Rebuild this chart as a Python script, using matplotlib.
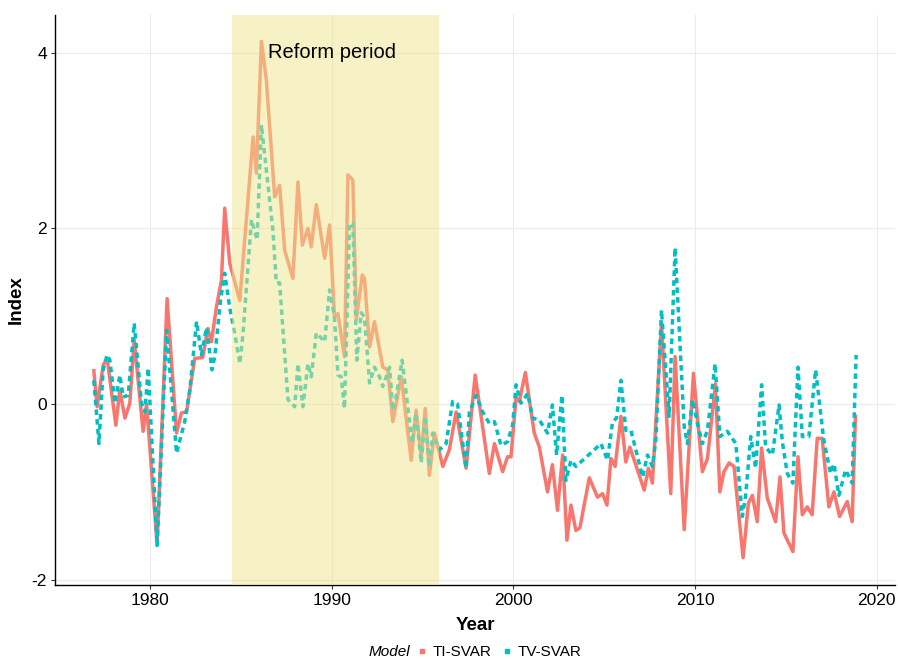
import matplotlib
matplotlib.use("Agg")
import matplotlib.pyplot as plt
from matplotlib.lines import Line2D

plt.rcParams['font.family'] = ['Liberation Sans', 'DejaVu Sans']
plt.rcParams['axes.unicode_minus'] = False

# ---- data ----
ti_years = [1976.92, 1977.10, 1977.43, 1977.65, 1978.13, 1978.35, 1978.63, 1978.90, 1979.14, 1979.63,
            1979.82, 1980.40, 1980.95, 1981.47, 1981.74, 1982.02, 1982.47, 1982.91, 1983.19, 1983.39,
            1983.66, 1983.94, 1984.12, 1984.40, 1984.95, 1985.68, 1985.86, 1986.14, 1986.41, 1986.87,
            1987.14, 1987.42, 1987.87, 1988.15, 1988.39, 1988.70, 1988.88, 1989.16, 1989.62, 1989.89,
            1990.16, 1990.35, 1990.71, 1990.90, 1991.17, 1991.36, 1991.69, 1991.81, 1992.09, 1992.36,
            1992.82, 1993.09, 1993.37, 1993.83, 1994.38, 1994.65, 1994.93, 1995.15, 1995.38, 1995.66,
            1996.12, 1996.48, 1996.85, 1997.40, 1997.90, 1998.68, 1998.96, 1999.41, 1999.68, 1999.87,
            2000.15, 2000.33, 2000.66, 2001.15, 2001.43, 2001.88, 2002.15, 2002.43, 2002.71, 2002.95,
            2003.17, 2003.44, 2003.66, 2004.18, 2004.63, 2004.91, 2005.15, 2005.37, 2005.60, 2005.92,
            2006.19, 2006.41, 2007.20, 2007.43, 2007.65, 2008.15, 2008.66, 2008.90, 2009.40, 2009.91,
            2010.40, 2010.68, 2011.12, 2011.36, 2011.59, 2011.87, 2012.14, 2012.64, 2012.93, 2013.15,
            2013.42, 2013.66, 2013.97, 2014.43, 2014.67, 2014.89, 2015.38, 2015.66, 2015.90, 2016.17,
            2016.44, 2016.72, 2016.99, 2017.36, 2017.64, 2017.95, 2018.37, 2018.64, 2018.82]
ti_values = [0.38, -0.03, 0.44, 0.52, -0.24, 0.16, -0.16, 0.01, 0.73, -0.31,
             0.00, -1.60, 1.20, -0.33, -0.10, -0.09, 0.52, 0.53, 0.86, 0.71,
             1.10, 1.41, 2.23, 1.60, 1.18, 3.04, 2.63, 4.13, 3.69, 2.36,
             2.49, 1.75, 1.43, 2.53, 1.81, 2.00, 1.79, 2.27, 1.66, 2.04,
             0.99, 1.03, 0.54, 2.61, 2.55, 0.96, 1.47, 1.43, 0.65, 0.94,
             0.42, 0.39, -0.20, 0.31, -0.64, -0.07, -0.60, -0.05, -0.81, -0.33,
             -0.71, -0.52, -0.09, -0.73, 0.33, -0.79, -0.45, -0.77, -0.60, -0.60,
             0.08, 0.03, 0.36, -0.33, -0.49, -1.00, -0.69, -1.21, -0.58, -1.55,
             -1.15, -1.44, -1.41, -0.84, -1.06, -1.02, -1.15, -0.62, -0.71, -0.14,
             -0.66, -0.49, -0.98, -0.73, -0.90, 0.92, -1.02, 0.54, -1.43, 0.35,
             -0.77, -0.62, 0.23, -1.00, -0.77, -0.67, -0.71, -1.75, -1.13, -1.04,
             -1.34, -0.50, -1.07, -1.34, -0.83, -1.47, -1.68, -0.60, -1.26, -1.17,
             -1.26, -0.39, -0.39, -1.17, -1.00, -1.28, -1.11, -1.34, -0.14]

tv_years = [1976.92, 1977.20, 1977.43, 1977.65, 1977.80, 1978.08, 1978.35, 1978.53, 1978.81, 1979.14,
            1979.54, 1979.73, 1979.91, 1980.40, 1980.92, 1981.47, 1981.92, 1982.20, 1982.57, 1982.84,
            1983.12, 1983.42, 1983.57, 1983.90, 1984.12, 1984.40, 1984.67, 1984.95, 1985.13, 1985.59,
            1985.90, 1986.14, 1986.41, 1986.77, 1986.96, 1987.14, 1987.60, 1987.97, 1988.15, 1988.42,
            1988.70, 1988.88, 1989.16, 1989.62, 1989.89, 1990.16, 1990.35, 1990.53, 1990.71, 1990.99,
            1991.17, 1991.39, 1991.63, 1991.81, 1992.09, 1992.36, 1992.64, 1992.82, 1993.19, 1993.37,
            1993.55, 1993.88, 1994.19, 1994.43, 1994.65, 1994.93, 1995.15, 1995.38, 1995.56, 1995.93,
            1996.30, 1996.66, 1996.93, 1997.40, 1997.58, 1997.95, 1998.31, 1998.68, 1998.96, 1999.32,
            1999.68, 1999.96, 2000.15, 2000.42, 2000.79, 2001.06, 2001.43, 2001.88, 2002.15, 2002.38,
            2002.67, 2002.89, 2003.17, 2003.44, 2004.35, 2004.82, 2005.18, 2005.46, 2005.68, 2005.92,
            2006.19, 2006.47, 2007.11, 2007.38, 2007.65, 2007.84, 2008.15, 2008.57, 2008.90, 2009.40,
            2009.58, 2009.86, 2010.13, 2010.40, 2010.68, 2011.10, 2011.36, 2011.77, 2012.24, 2012.60,
            2012.78, 2013.06, 2013.33, 2013.66, 2013.88, 2014.25, 2014.62, 2014.80, 2015.07, 2015.38,
            2015.66, 2015.90, 2016.26, 2016.63, 2017.08, 2017.45, 2017.64, 2017.91, 2018.28, 2018.64,
            2018.86]
tv_values = [0.27, -0.45, 0.39, 0.56, 0.50, 0.01, 0.33, 0.08, 0.10, 0.92,
             0.01, -0.09, 0.41, -1.61, 0.84, -0.56, -0.20, 0.16, 0.94, 0.56,
             0.87, 0.39, 0.54, 1.20, 1.49, 1.09, 0.81, 0.46, 0.81, 2.10,
             1.87, 3.18, 2.67, 1.98, 1.38, 1.38, 0.05, -0.03, 0.46, -0.03,
             0.46, 0.31, 0.81, 0.71, 1.30, 0.99, 0.33, 0.31, -0.05, 2.06,
             2.06, 0.50, 1.04, 0.99, 0.24, 0.42, 0.31, 0.20, 0.42, -0.07,
             0.08, 0.50, -0.03, -0.44, -0.10, -0.67, -0.14, -0.71, -0.33, -0.52,
             -0.45, 0.03, 0.00, -0.73, -0.09, 0.10, -0.09, -0.22, -0.20, -0.47,
             -0.43, -0.24, 0.22, 0.01, 0.12, -0.16, -0.18, -0.33, -0.01, -0.58,
             0.10, -0.87, -0.64, -0.71, -0.54, -0.45, -0.64, -0.20, -0.16, 0.27,
             -0.30, -0.30, -0.83, -0.58, -0.71, -0.41, 1.07, -0.14, 1.78, -0.26,
             -0.45, 0.05, -0.22, -0.45, -0.30, 0.46, -0.37, -0.31, -0.45, -1.28,
             -1.04, -0.37, -0.73, 0.22, -0.49, -0.58, -0.01, -0.43, -0.79, -0.90,
             0.42, -0.37, -0.37, 0.39, -0.41, -0.79, -0.68, -1.04, -0.75, -0.90,
             0.56]

series_labels = ["TI-SVAR", "TV-SVAR"]
reform_start, reform_end = 1984.5, 1995.9
x_ticks = [1980, 1990, 2000, 2010, 2020]
y_ticks = [-2, 0, 2, 4]

RED = '#F8766D'
TEAL = '#00BFC4'

fig = plt.figure(figsize=(8.98, 6.59), dpi=100)
ax = fig.add_axes([0.0616, 0.1123, 0.9351, 0.8649])

ax.plot(ti_years, ti_values, color=RED, lw=2.5, solid_joinstyle='round', zorder=3)
ax.plot(tv_years, tv_values, color=TEAL, lw=2.5, linestyle=(0, (1.6, 1.2)), zorder=3)

ax.axvspan(reform_start, reform_end, color='#F0E68C', alpha=0.5, lw=0, zorder=4)
ax.text(1986.5, 4.0, "Reform period", fontsize=14.5, va='center', ha='left', zorder=5)

ax.set_xlim(1974.8, 2021.0)
ax.set_ylim(-2.06, 4.43)
ax.set_xticks(x_ticks)
ax.set_yticks(y_ticks)
ax.grid(True, color='#EBEBEB', lw=0.8, zorder=0)
ax.set_axisbelow(True)
for s in ['top', 'right']:
    ax.spines[s].set_visible(False)
for s in ['left', 'bottom']:
    ax.spines[s].set_color('black')
    ax.spines[s].set_linewidth(1.0)
ax.tick_params(axis='both', length=3, color='#333333', labelsize=12.5, labelcolor='black', pad=3)

ax.set_xlabel("Year", fontsize=13.5, fontweight='bold', labelpad=6)
ax.set_ylabel("Index", fontsize=13.5, fontweight='bold', labelpad=5)

handles = [Line2D([], [], marker='s', ls='none', color=RED, markersize=3),
           Line2D([], [], marker='s', ls='none', color=TEAL, markersize=3)]
fig.text(369 / 898, 1 - 652 / 659, "Model", style='italic', fontsize=11, va='center', ha='left')
fig.legend(handles, series_labels, loc='center left', bbox_to_anchor=(416 / 898, 1 - 652 / 659),
           ncol=2, frameon=False, fontsize=11, handlelength=0.8, handletextpad=0.3,
           columnspacing=0.6, borderpad=0, borderaxespad=0)

fig.savefig("out.png", dpi=100)
